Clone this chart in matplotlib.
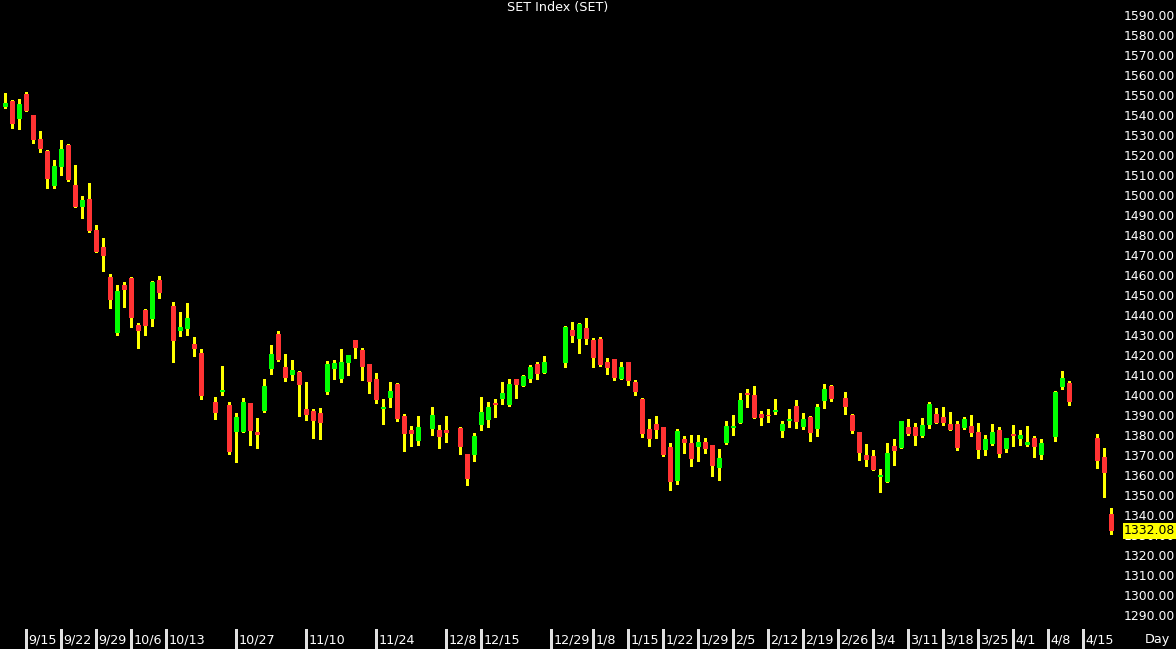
import matplotlib

matplotlib.use("Agg")
import matplotlib.pyplot as plt

# trading slots (one per weekday on the axis, holidays left empty)
slots = [0, 1, 2, 3, 4, 5, 6, 7, 8, 9, 10, 11, 12, 13, 14, 15, 16, 17, 18, 19, 20, 21, 22,
         24, 25, 26, 27, 28,
         30, 31, 32, 33, 34, 35, 36, 37, 38, 39, 40, 41, 42, 43, 44, 45, 46, 47, 48, 49,
         50, 51, 52, 53, 54, 55, 56, 57, 58, 59,
         61, 62, 63,
         65, 66, 67, 68, 69, 70, 71, 72, 73, 74, 75, 76, 77,
         80, 81, 82, 83, 84, 85, 86, 87, 88, 89, 90, 91, 92, 93, 94, 95, 96, 97, 98, 99,
         100, 101, 102, 103, 104, 105, 106, 107, 108, 109, 110, 111, 112, 113, 114, 115,
         116, 117, 118,
         120, 121, 122, 123, 124, 125, 126, 127, 128, 129, 130, 131, 132, 133, 134, 135,
         136, 137, 138, 139, 140, 141, 142, 143, 144, 145, 146, 147, 148,
         150, 151, 152,
         156, 157, 158]

opens = [1544.2, 1547.0, 1538.2, 1550.5, 1539.8, 1528.2, 1522.0, 1504.7, 1514.2, 1524.8,
         1505.2, 1494.2, 1498.0, 1482.5, 1473.8, 1459.0, 1430.8, 1455.2, 1458.5, 1435.0,
         1442.5, 1438.2, 1457.5,
         1444.5, 1432.0, 1433.2, 1425.5, 1420.8,
         1396.3, 1401.3, 1395.0, 1381.7, 1381.7, 1396.0, 1381.3, 1392.0, 1413.0, 1430.5,
         1414.0, 1410.2, 1411.5, 1393.2, 1392.0, 1390.8, 1401.7, 1413.2, 1408.0, 1416.0,
         1427.5, 1422.5, 1415.5, 1408.0, 1393.2, 1398.7, 1405.5, 1389.7, 1382.7, 1376.8,
         1383.2, 1382.7, 1382.3,
         1383.5, 1370.5, 1370.2, 1384.8, 1387.5, 1395.8, 1398.0, 1394.8, 1407.8, 1404.7,
         1408.2, 1415.7, 1411.0,
         1415.8, 1432.5, 1428.0, 1433.5, 1427.5, 1428.0, 1416.7, 1418.0, 1408.2, 1416.3,
         1406.7, 1398.2, 1383.0, 1385.5, 1384.0, 1374.2, 1357.0, 1378.0, 1376.2, 1373.8,
         1376.7, 1374.8, 1363.7, 1376.0, 1383.5, 1386.0, 1400.8, 1399.8, 1390.5, 1390.0,
         1391.5, 1382.2, 1387.0, 1394.5, 1384.2, 1389.0, 1383.0, 1396.8, 1404.7,
         1398.5, 1390.0, 1381.5, 1370.0, 1369.5, 1359.0, 1356.5, 1374.5, 1373.5, 1383.8,
         1384.0, 1379.7, 1385.0, 1390.5, 1389.0, 1385.7, 1385.5, 1383.7, 1384.5, 1381.5,
         1372.7, 1375.7, 1382.3, 1373.2, 1380.5, 1377.8, 1375.2, 1378.5, 1370.0,
         1378.8, 1404.2, 1406.2,
         1378.5, 1368.8, 1340.5]

highs = [1551.2, 1547.5, 1548.0, 1551.3, 1540.2, 1532.0, 1522.3, 1517.5, 1527.5, 1525.3,
         1515.0, 1499.5, 1506.0, 1485.0, 1478.3, 1460.3, 1455.0, 1456.7, 1458.8, 1435.8,
         1442.8, 1457.2, 1459.5,
         1446.5, 1441.3, 1445.8, 1429.0, 1422.8,
         1399.0, 1414.5, 1396.5, 1391.0, 1398.3, 1396.2, 1388.3, 1408.2, 1425.0, 1431.8,
         1420.5, 1417.5, 1412.2, 1406.5, 1392.8, 1393.5, 1417.2, 1417.5, 1423.0, 1420.2,
         1427.7, 1423.3, 1415.7, 1411.2, 1398.0, 1406.3, 1405.8, 1390.3, 1384.5, 1389.7,
         1393.8, 1384.8, 1389.7,
         1383.8, 1370.7, 1381.2, 1399.0, 1396.5, 1398.0, 1406.7, 1408.2, 1408.0, 1410.0,
         1414.8, 1416.3, 1419.5,
         1434.5, 1436.7, 1435.8, 1438.5, 1428.3, 1429.0, 1418.7, 1418.2, 1416.7, 1416.7,
         1407.5, 1398.5, 1387.8, 1389.5, 1384.2, 1375.8, 1383.0, 1379.3, 1380.0, 1379.8,
         1378.7, 1375.0, 1373.0, 1387.0, 1390.0, 1401.0, 1403.0, 1404.3, 1392.2, 1393.0,
         1398.2, 1387.2, 1393.0, 1397.5, 1391.2, 1389.5, 1395.5, 1405.5, 1405.2,
         1401.5, 1390.5, 1381.7, 1375.5, 1372.3, 1363.0, 1376.2, 1378.0, 1387.2, 1388.0,
         1386.0, 1388.7, 1396.3, 1393.7, 1394.0, 1391.7, 1387.0, 1388.8, 1390.0, 1386.0,
         1380.0, 1385.5, 1384.0, 1378.7, 1384.8, 1382.3, 1384.5, 1379.5, 1378.2,
         1402.0, 1412.0, 1407.2,
         1380.5, 1373.5, 1343.7]

lows = [1543.7, 1533.5, 1532.8, 1541.8, 1525.8, 1521.7, 1503.7, 1503.7, 1510.0, 1507.0,
        1494.0, 1488.5, 1481.7, 1471.3, 1461.8, 1443.5, 1430.2, 1443.8, 1434.2, 1423.5,
        1430.2, 1434.7, 1448.7,
        1416.7, 1429.7, 1430.0, 1419.7, 1398.2,
        1388.0, 1399.8, 1370.7, 1366.7, 1381.5, 1375.0, 1373.7, 1391.7, 1410.3, 1417.0,
        1407.2, 1407.3, 1389.7, 1387.7, 1378.5, 1378.0, 1400.7, 1408.2, 1406.7, 1410.0,
        1418.7, 1407.5, 1400.8, 1396.2, 1385.5, 1394.2, 1387.2, 1372.0, 1374.3, 1375.0,
        1380.0, 1373.5, 1376.5,
        1370.3, 1355.0, 1367.2, 1382.5, 1384.2, 1389.2, 1395.7, 1394.5, 1398.3, 1404.5,
        1406.7, 1408.0, 1410.8,
        1414.0, 1426.7, 1421.2, 1425.7, 1414.2, 1414.5, 1410.7, 1407.5, 1407.8, 1405.0,
        1400.0, 1379.2, 1374.5, 1378.7, 1369.7, 1352.5, 1355.3, 1371.0, 1364.5, 1367.2,
        1371.0, 1359.7, 1357.5, 1375.5, 1380.0, 1385.8, 1394.2, 1388.3, 1385.2, 1386.5,
        1390.5, 1379.2, 1383.8, 1383.7, 1383.2, 1377.0, 1379.3, 1393.7, 1397.0,
        1390.5, 1381.2, 1367.3, 1364.7, 1362.3, 1351.3, 1356.3, 1365.2, 1373.3, 1380.0,
        1375.2, 1378.8, 1383.5, 1386.0, 1385.2, 1382.5, 1372.7, 1383.0, 1379.7, 1368.7,
        1370.0, 1375.2, 1369.2, 1371.5, 1374.7, 1375.0, 1374.5, 1369.2, 1367.8,
        1377.2, 1403.0, 1395.0,
        1363.7, 1349.2, 1330.7]

closes = [1546.0, 1535.7, 1545.5, 1542.2, 1527.7, 1523.2, 1508.0, 1514.7, 1523.0, 1507.5,
          1494.2, 1497.5, 1482.2, 1471.5, 1469.7, 1447.7, 1451.8, 1452.7, 1438.7, 1432.0,
          1434.7, 1456.7, 1450.8,
          1427.2, 1434.0, 1438.3, 1423.2, 1399.7,
          1391.0, 1402.5, 1371.3, 1388.8, 1396.5, 1382.0, 1380.2, 1404.5, 1420.3, 1417.3,
          1408.5, 1412.3, 1405.2, 1389.8, 1387.2, 1386.2, 1415.7, 1415.8, 1416.3, 1420.0,
          1423.7, 1414.2, 1406.7, 1397.5, 1393.8, 1402.0, 1387.8, 1380.5, 1380.7, 1384.0,
          1390.0, 1379.0, 1381.2,
          1374.0, 1358.0, 1379.5, 1391.5, 1393.8, 1395.0, 1401.0, 1405.3, 1405.2, 1409.5,
          1414.0, 1410.7, 1416.5,
          1434.0, 1429.7, 1435.3, 1428.0, 1418.7, 1415.0, 1413.7, 1408.3, 1414.0, 1407.0,
          1401.7, 1380.7, 1378.2, 1382.7, 1369.8, 1356.7, 1381.8, 1376.2, 1368.2, 1376.7,
          1373.0, 1364.7, 1368.5, 1384.5, 1384.5, 1397.5, 1400.2, 1388.7, 1388.5, 1389.5,
          1392.5, 1385.7, 1388.0, 1386.5, 1387.8, 1381.2, 1394.0, 1403.0, 1398.2,
          1394.0, 1382.2, 1370.8, 1367.5, 1362.7, 1359.8, 1371.2, 1372.2, 1387.0, 1380.5,
          1379.7, 1385.0, 1395.5, 1386.2, 1386.0, 1382.7, 1373.3, 1388.0, 1381.2, 1372.7,
          1377.8, 1381.5, 1370.5, 1378.5, 1379.7, 1380.0, 1376.3, 1374.0, 1376.2,
          1401.7, 1408.7, 1396.5,
          1367.2, 1361.2, 1332.08]

date_slots = [3, 8, 13, 18, 23, 33, 43, 53, 63, 68, 78, 84, 89, 94, 99, 104, 109, 114,
              119, 124, 129, 134, 139, 144, 149, 154]
date_labels = ["9/15", "9/22", "9/29", "10/6", "10/13", "10/27", "11/10", "11/24", "12/8",
               "12/15", "12/29", "1/8", "1/15", "1/22", "1/29", "2/5", "2/12", "2/19",
               "2/26", "3/4", "3/11", "3/18", "3/25", "4/1", "4/8", "4/15"]
price_ticks = [1590, 1580, 1570, 1560, 1550, 1540, 1530, 1520, 1510, 1500, 1490, 1480,
               1470, 1460, 1450, 1440, 1430, 1420, 1410, 1400, 1390, 1380, 1370, 1360,
               1350, 1340, 1330, 1320, 1310, 1300, 1290]
last_close = 1332.08

UP = "#00ff00"
DOWN = "#ff3333"
WICK = "#ffff00"
W, H = 1176, 649

fig = plt.figure(figsize=(W / 100, H / 100), dpi=100, facecolor="black")
ax = fig.add_axes([0, 24 / H, 1116 / W, 625 / H], facecolor="black")

ax.vlines(slots, lows, highs, color=WICK, linewidth=0.75, antialiased=False, zorder=2)
colors = [UP if c >= o else DOWN for o, c in zip(opens, closes)]
bottoms = [min(o, c) for o, c in zip(opens, closes)]
heights = [max(abs(c - o), 0.5) for o, c in zip(opens, closes)]
ax.bar(slots, heights, bottom=bottoms, width=0.72, color=colors, linewidth=0,
       antialiased=False, zorder=3)

ax.set_xlim(-0.76, 158.67)
ax.set_ylim(1285, 1597.5)
for spine in ax.spines.values():
    spine.set_visible(False)
ax.set_xticks([])
ax.yaxis.tick_right()
ax.set_yticks(price_ticks)
ax.set_yticklabels([f"{p:.2f}" for p in price_ticks])
ax.tick_params(axis="y", length=0, pad=5.8, labelsize=8.9, labelcolor="white")

# date axis: short tick line left of each label
xt = ax.get_xaxis_transform()
for s, lab in zip(date_slots, date_labels):
    ax.plot([s, s], [-5 / 625, -24 / 625], transform=xt, color="#e0e0e0",
            linewidth=0.8, clip_on=False, antialiased=False)
    ax.text(s + 0.25, -15 / 625, lab, transform=xt, color="white", fontsize=9.2,
            ha="left", va="center")

ax.text(1124 / 1116, last_close, f"{last_close:.2f}", transform=ax.get_yaxis_transform(),
        color="black", fontsize=8.9, ha="left", va="center", zorder=5, clip_on=False,
        bbox=dict(boxstyle="square,pad=0.12", facecolor="#ffff00", edgecolor="none"))

fig.text(1157 / W, 1 - 640 / H, "Day", color="white", fontsize=9.2, ha="center", va="center")
fig.text(558 / W, 1 - 7 / H, "SET Index (SET)", color="white", fontsize=9.2,
         ha="center", va="center")

fig.savefig("out.png", dpi=100, facecolor="black")
